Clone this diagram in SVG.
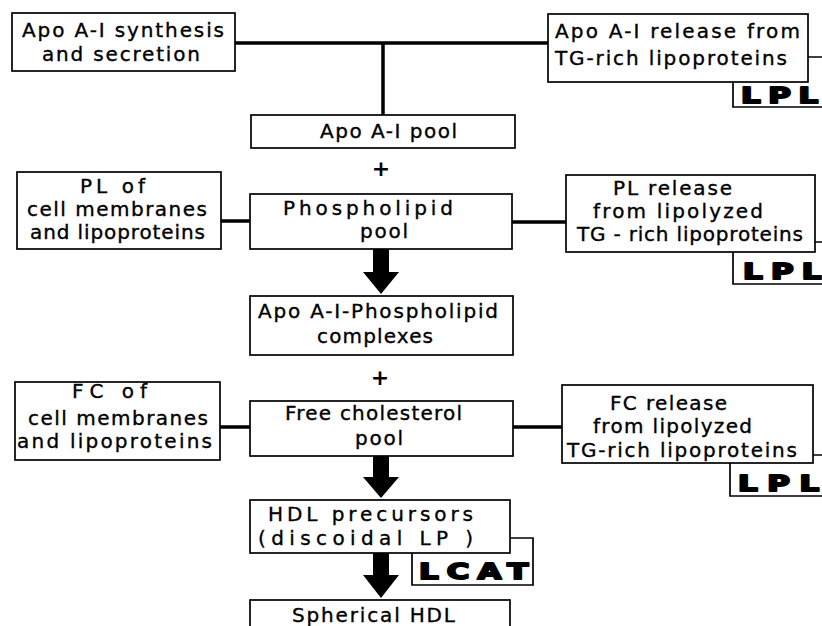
<svg xmlns="http://www.w3.org/2000/svg" width="822" height="626" viewBox="0 0 822 626">
<style>
.box{fill:#fff;stroke:#000;stroke-width:1.7}
.t{font-family:"DejaVu Sans","Liberation Sans",sans-serif;font-size:20px;fill:#000;stroke:#000;stroke-width:0.35}
.e{font-family:"DejaVu Sans","Liberation Sans",sans-serif;font-size:22px;font-weight:900;fill:#000;stroke:#000;stroke-width:2;stroke-linejoin:round}
.pl{font-family:"DejaVu Sans",sans-serif;font-size:22px;font-weight:bold;fill:#000}
.c{fill:none;stroke:#000;stroke-width:3.5}
.lb{fill:none;stroke:#000;stroke-width:1.7}
.ar{fill:#000}
</style>
<rect width="822" height="626" fill="#fff"/>
<g id="connectors">
<path class="c" d="M235,43 H548 M383,43 V115"/>
<path class="c" d="M221,221 H250 M512,222 H566"/>
<path class="c" d="M220,427 H250 M513,427 H562"/>
<path class="ar" d="M373,249 H389 V272 H399 L381,294 L363,272 H373 Z"/>
<path class="ar" d="M373,456 H389 V477 H399 L381,498 L363,477 H373 Z"/>
<path class="ar" d="M373,553 H389 V575 H399 L381,598 L363,575 H373 Z"/>
</g>
<g id="apoa1-synthesis">
<rect class="box" x="12" y="13" width="223" height="58"/>
<text class="t" x="22" y="37" textLength="202" lengthAdjust="spacing">Apo A-I synthesis</text>
<text class="t" x="42" y="61" textLength="158" lengthAdjust="spacing">and secretion</text>
</g>
<g id="apoa1-release">
<rect class="box" x="548" y="14" width="260" height="68"/>
<text class="t" x="555" y="38" textLength="245" lengthAdjust="spacing">Apo A-I release from</text>
<text class="t" x="555" y="65" textLength="232" lengthAdjust="spacing">TG-rich lipoproteins</text>
</g>
<g id="lpl1">
<path class="lb" d="M808,57 H822 M733,82 V107 H822"/>
<text class="e" transform="translate(741,103) scale(1.4,1)" textLength="55" lengthAdjust="spacing">LPL</text>
</g>
<g id="apoa1-pool">
<rect class="box" x="251" y="115" width="264" height="33"/>
<text class="t" x="320" y="138" textLength="137" lengthAdjust="spacing">Apo A-I pool</text>
</g>
<g id="plus1"><text class="pl" x="381" y="176" text-anchor="middle">+</text></g>
<g id="pl-cells">
<rect class="box" x="17" y="172" width="204" height="77"/>
<text class="t" x="80" y="193" textLength="65" lengthAdjust="spacing">PL of</text>
<text class="t" x="27" y="216" textLength="180" lengthAdjust="spacing">cell membranes</text>
<text class="t" x="30" y="239" textLength="175" lengthAdjust="spacing">and lipoproteins</text>
</g>
<g id="pl-pool">
<rect class="box" x="250" y="194" width="262" height="55"/>
<text class="t" x="283" y="215" textLength="170" lengthAdjust="spacing">Phospholipid</text>
<text class="t" x="360" y="238" textLength="48" lengthAdjust="spacing">pool</text>
</g>
<g id="pl-release">
<rect class="box" x="566" y="175" width="249" height="77"/>
<text class="t" x="613" y="195" textLength="119" lengthAdjust="spacing">PL release</text>
<text class="t" x="593" y="218" textLength="170" lengthAdjust="spacing">from lipolyzed</text>
<text class="t" x="577" y="241" textLength="226" lengthAdjust="spacing">TG - rich lipoproteins</text>
</g>
<g id="lpl2">
<path class="lb" d="M815,242 H822 M733,252 V284 H822"/>
<text class="e" transform="translate(743,279) scale(1.4,1)" textLength="56" lengthAdjust="spacing">LPL</text>
</g>
<g id="apoa1-pl-complexes">
<rect class="box" x="250" y="296" width="263" height="59"/>
<text class="t" x="258" y="318" textLength="240" lengthAdjust="spacing">Apo A-I-Phospholipid</text>
<text class="t" x="317" y="343" textLength="116" lengthAdjust="spacing">complexes</text>
</g>
<g id="plus2"><text class="pl" x="380" y="385" text-anchor="middle">+</text></g>
<g id="fc-cells">
<rect class="box" x="15" y="382" width="205" height="78"/>
<text class="t" x="72" y="398" textLength="75" lengthAdjust="spacing">FC of</text>
<text class="t" x="28" y="425" textLength="180" lengthAdjust="spacing">cell membranes</text>
<text class="t" x="17" y="448" textLength="195" lengthAdjust="spacing">and lipoproteins</text>
</g>
<g id="fc-pool">
<rect class="box" x="250" y="401" width="263" height="55"/>
<text class="t" x="285" y="420" textLength="177" lengthAdjust="spacing">Free cholesterol</text>
<text class="t" x="355" y="445" textLength="48" lengthAdjust="spacing">pool</text>
</g>
<g id="fc-release">
<rect class="box" x="562" y="385" width="251" height="78"/>
<text class="t" x="610" y="410" textLength="117" lengthAdjust="spacing">FC release</text>
<text class="t" x="593" y="433" textLength="159" lengthAdjust="spacing">from lipolyzed</text>
<text class="t" x="567" y="457" textLength="230" lengthAdjust="spacing">TG-rich lipoproteins</text>
</g>
<g id="lpl3">
<path class="lb" d="M813,455 H822 M730,463 V496 H822"/>
<text class="e" transform="translate(738,491) scale(1.4,1)" textLength="58" lengthAdjust="spacing">LPL</text>
</g>
<g id="hdl-precursors">
<rect class="box" x="250" y="500" width="260" height="53"/>
<text class="t" x="268" y="521" textLength="205" lengthAdjust="spacing">HDL precursors</text>
<text class="t" x="258" y="545" textLength="215" lengthAdjust="spacing">(discoidal LP )</text>
</g>
<g id="lcat">
<path class="lb" d="M510,538 H533 V585 H412 V553"/>
<text class="e" transform="translate(419,579) scale(1.4,1)" textLength="78" lengthAdjust="spacing">LCAT</text>
</g>
<g id="spherical-hdl">
<rect class="box" x="250" y="600" width="260" height="40"/>
<text class="t" x="292" y="622" textLength="163" lengthAdjust="spacing">Spherical HDL</text>
</g>
</svg>
